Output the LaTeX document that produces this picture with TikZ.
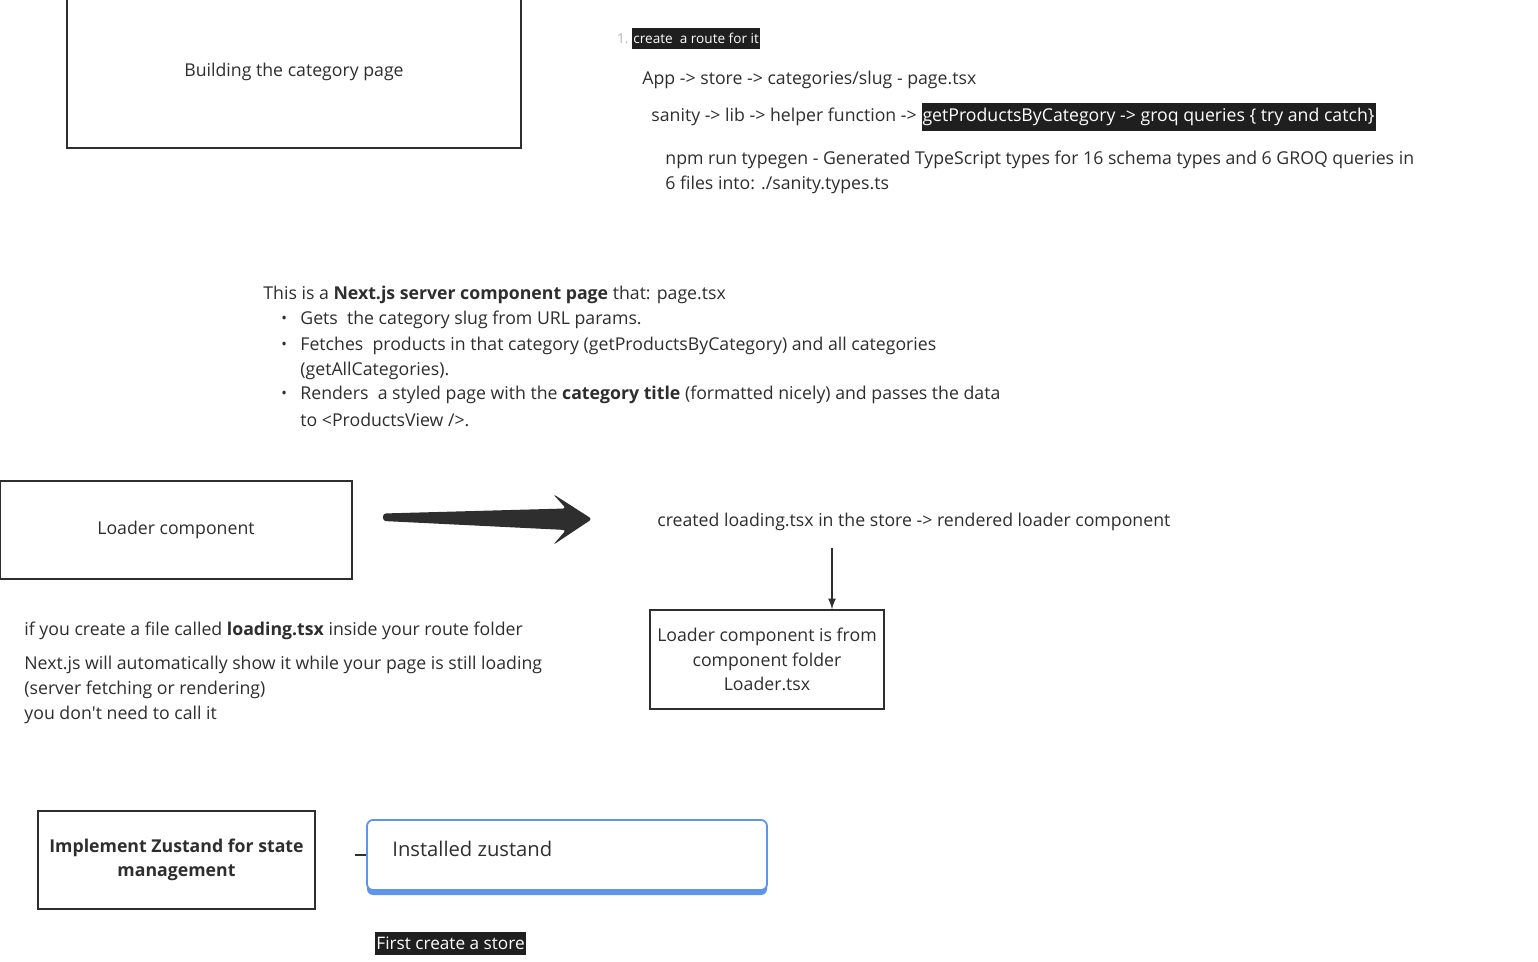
\documentclass[tikz,border=0pt]{standalone}
\usepackage{fontspec}
\setmainfont{Open Sans}
\usetikzlibrary{positioning}
\usetikzlibrary{shadows}
\definecolor{inkgray}{HTML}{2E2E2E}
\definecolor{numgray}{HTML}{B5B5B5}
\definecolor{zblue}{HTML}{5E95EA}
\newcommand{\mainsize}{\fontsize{8.85}{12.2}\selectfont}
\newcommand{\smallsize}{\fontsize{6.8}{8}\selectfont}
\tikzset{
  txt/.style={anchor=west, inner sep=0pt, text=inkgray, font=\mainsize, yshift=-1pt},
  hl/.style={anchor=west, fill=black!88, text=white, inner xsep=0.5pt, inner ysep=2.5pt},
  plainbox/.style={draw=inkgray, line width=0.9pt, text=inkgray, font=\mainsize, align=center, inner sep=2pt},
}

\begin{document}
\begin{tikzpicture}[x=0.5pt, y=-0.5pt]
        \fill[white] (0,0) rectangle (1538,962);
        \useasboundingbox (0,0) rectangle (1538,962);
        %Box category page
        \node [plainbox, minimum width=227pt, minimum height=76pt] (catbox) at (294,72) {Building the category page};
        %Route notes
        \node [anchor=east, inner sep=0pt, text=numgray, font=\smallsize] (routenum) at (629,38.5) {1.};
        \node [hl, font=\smallsize] (routehl) at (632,38.5) {create\ \ a route for it};
        \node [txt] (apppath) at (642,78) {App -> store -> categories/slug - page.tsx};
        \node [txt] (sanpath) at (651,115) {sanity -> lib -> helper function ->};
        \node [hl, font=\mainsize, right=2pt of sanpath] (sanhl) {getProductsByCategory -> groq queries \{ try and catch\}};
        \node [txt] (typegen1) at (665,158) {npm run typegen - Generated TypeScript types for 16 schema types and 6 GROQ queries in};
        \node [txt] (typegen2) at (665,183) {6 files into: ./sanity.types.ts};
        %Page description
        \node [txt] (pagedesc) at (263,293) {This is a \textbf{Next.js server component page} that: page.tsx};
        \foreach \yy in {318,344,393} {
          \node [txt, font=\fontsize{7.5}{8}\selectfont] at (281,\yy) {•};
        }
        \node [txt] (item1) at (300,318) {Gets\ \ the category slug from URL params.};
        \node [txt] (item2) at (300,344) {Fetches\ \ products in that category (getProductsByCategory) and all categories};
        \node [txt] (item2b) at (300,369) {(getAllCategories).};
        \node [txt] (item3) at (300,393) {Renders\ \ a styled page with the \textbf{category title} (formatted nicely) and passes the data};
        \node [txt] (item3b) at (300,418) {to <ProductsView />.};
        %Loader part
        \node [plainbox, minimum width=176pt, minimum height=49pt] (loadbox) at (176,530) {Loader component};
        \fill [inkgray, rounded corners=1.5pt] (383,513.5) -- (566,508.5) -- (553,494) -- (592,519) -- (553,545) -- (566,530) -- (383,521) -- cycle;
        \node [txt] (created) at (657,520) {created loading.tsx in the store -> rendered loader component};
        \node [plainbox, minimum width=117pt, minimum height=49.5pt] (frombox) at (767,659.5) {Loader component is from\\component folder\\Loader.tsx};
        \coordinate (downfrom) at ([xshift=32.5pt]frombox.north |- created.south);
        \draw [->, >=latex, inkgray, line width=0.8pt] ([yshift=-8.5pt]downfrom) -- ([xshift=32.5pt]frombox.north);
        \node [txt] (ifyou) at (24,629) {if you create a file called \textbf{loading.tsx} inside your route folder};
        \node [txt] (auto1) at (24,663) {Next.js will automatically show it while your page is still loading};
        \node [txt] (auto2) at (24,688) {(server fetching or rendering)};
        \node [txt] (auto3) at (24,713) {you don\textquotesingle t need to call it};
        %Zustand part
        \node [plainbox, font=\mainsize\bfseries, minimum width=138.5pt, minimum height=49pt] (zusbox) at (176.5,860) {Implement Zustand for state\\management};
        \node [draw=zblue, line width=0.9pt, fill=white, rounded corners=3pt, minimum width=200pt, minimum height=35pt,
               drop shadow={shadow xshift=0pt, shadow yshift=-2.5pt, fill=zblue, opacity=1}] (instbox) at (567,855) {};
        \node [txt, font=\fontsize{10.1}{12}\selectfont] (insttext) at (392,847) {Installed zustand};
        \coordinate (stub) at (355,855);
        \draw [inkgray, line width=1.2pt] (stub) -- (instbox.west);
        \node [hl, font=\fontsize{8.6}{10}\selectfont] (storehl) at (375,943.5) {First create a store};
\end{tikzpicture}
\end{document}
